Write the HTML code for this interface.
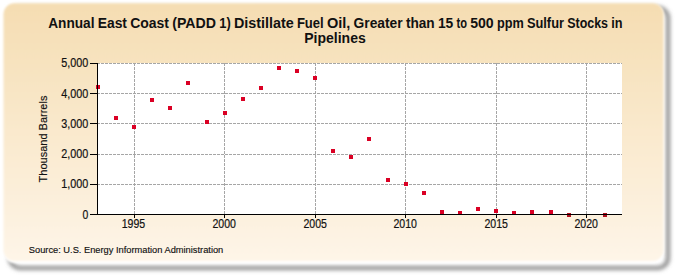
<!DOCTYPE html>
<html><head><meta charset="utf-8"><style>
html,body{margin:0;padding:0;width:675px;height:275px;overflow:hidden;background:#fff;}
svg{display:block;font-family:"Liberation Sans",sans-serif;}
</style></head><body>
<svg width="675" height="275" viewBox="0 0 675 275">
<defs>
<linearGradient id="bg" x1="0" y1="0" x2="0" y2="1">
<stop offset="0" stop-color="#F5DDB2"/>
<stop offset="1" stop-color="#FEF5E8"/>
</linearGradient>
<filter id="sh" x="-10%" y="-10%" width="120%" height="120%"><feGaussianBlur stdDeviation="2.2"/></filter>
<filter id="soft" x="-2%" y="-2%" width="104%" height="104%"><feGaussianBlur stdDeviation="0.9"/></filter>
</defs>
<rect x="10" y="8" width="658" height="260" rx="10" fill="none" stroke="#7c7c7c" stroke-width="3.6" filter="url(#sh)"/>
<rect x="3.5" y="3.2" width="660" height="259.8" rx="11" fill="#fff" filter="url(#soft)"/>
<rect x="3.5" y="3.2" width="660" height="257.8" rx="11" fill="url(#bg)" filter="url(#soft)"/>
<rect x="98" y="63" width="524" height="151" fill="#fff"/>
<g stroke="#a6a6a6" stroke-dasharray="3,1"><line x1="97" y1="184.5" x2="622" y2="184.5"/><line x1="97" y1="154.5" x2="622" y2="154.5"/><line x1="97" y1="123.5" x2="622" y2="123.5"/><line x1="97" y1="93.5" x2="622" y2="93.5"/><line x1="97" y1="63.5" x2="622" y2="63.5"/><line x1="134.5" y1="63" x2="134.5" y2="214"/><line x1="224.5" y1="63" x2="224.5" y2="214"/><line x1="315.5" y1="63" x2="315.5" y2="214"/><line x1="405.5" y1="63" x2="405.5" y2="214"/><line x1="496.5" y1="63" x2="496.5" y2="214"/><line x1="586.5" y1="63" x2="586.5" y2="214"/></g>
<g font-size="12" fill="#111" stroke="#111" stroke-width="0.2"><text x="88.2" y="218.8" text-anchor="end" textLength="5.8" lengthAdjust="spacingAndGlyphs">0</text><text x="88.2" y="187.8" text-anchor="end" textLength="27.0" lengthAdjust="spacingAndGlyphs">1,000</text><text x="88.2" y="157.8" text-anchor="end" textLength="27.0" lengthAdjust="spacingAndGlyphs">2,000</text><text x="88.2" y="127.6" text-anchor="end" textLength="27.0" lengthAdjust="spacingAndGlyphs">3,000</text><text x="88.2" y="97.7" text-anchor="end" textLength="27.0" lengthAdjust="spacingAndGlyphs">4,000</text><text x="88.2" y="66.9" text-anchor="end" textLength="27.0" lengthAdjust="spacingAndGlyphs">5,000</text><text x="133.5" y="228" text-anchor="middle" textLength="23.5" lengthAdjust="spacingAndGlyphs">1995</text><text x="224.2" y="228" text-anchor="middle" textLength="23.5" lengthAdjust="spacingAndGlyphs">2000</text><text x="315.2" y="228" text-anchor="middle" textLength="23.5" lengthAdjust="spacingAndGlyphs">2005</text><text x="405.2" y="228" text-anchor="middle" textLength="23.5" lengthAdjust="spacingAndGlyphs">2010</text><text x="496.2" y="228" text-anchor="middle" textLength="23.5" lengthAdjust="spacingAndGlyphs">2015</text><text x="586.2" y="228" text-anchor="middle" textLength="23.5" lengthAdjust="spacingAndGlyphs">2020</text></g>
<g fill="#DA0024"><rect x="96" y="85" width="4" height="4"/><rect x="114" y="116" width="4" height="4"/><rect x="132" y="125" width="4" height="4"/><rect x="150" y="98" width="4" height="4"/><rect x="168" y="106" width="4" height="4"/><rect x="186" y="81" width="4" height="4"/><rect x="205" y="120" width="4" height="4"/><rect x="223" y="111" width="4" height="4"/><rect x="241" y="97" width="4" height="4"/><rect x="259" y="86" width="4" height="4"/><rect x="277" y="66" width="4" height="4"/><rect x="295" y="69" width="4" height="4"/><rect x="313" y="76" width="4" height="4"/><rect x="331" y="149" width="4" height="4"/><rect x="349" y="155" width="4" height="4"/><rect x="367" y="137" width="4" height="4"/><rect x="386" y="178" width="4" height="4"/><rect x="404" y="182" width="4" height="4"/><rect x="422" y="191" width="4" height="4"/><rect x="440" y="210" width="4" height="4"/><rect x="458" y="211" width="4" height="4"/><rect x="476" y="207" width="4" height="4"/><rect x="494" y="209" width="4" height="4"/><rect x="512" y="211" width="4" height="4"/><rect x="530" y="210" width="4" height="4"/><rect x="549" y="210" width="4" height="4"/><rect x="567" y="213" width="4" height="4" fill="#b0101f"/><rect x="603" y="213" width="4" height="4" fill="#b0101f"/></g>
<line x1="97.5" y1="63" x2="97.5" y2="214" stroke="#000"/>
<line x1="90" y1="214.5" x2="622" y2="214.5" stroke="#000"/>
<g stroke="#000"><line x1="90" y1="214.5" x2="97" y2="214.5"/><line x1="90" y1="184.5" x2="97" y2="184.5"/><line x1="90" y1="154.5" x2="97" y2="154.5"/><line x1="90" y1="123.5" x2="97" y2="123.5"/><line x1="90" y1="93.5" x2="97" y2="93.5"/><line x1="90" y1="63.5" x2="97" y2="63.5"/><line x1="134.5" y1="214" x2="134.5" y2="218"/><line x1="224.5" y1="214" x2="224.5" y2="218"/><line x1="315.5" y1="214" x2="315.5" y2="218"/><line x1="405.5" y1="214" x2="405.5" y2="218"/><line x1="496.5" y1="214" x2="496.5" y2="218"/><line x1="586.5" y1="214" x2="586.5" y2="218"/></g>
<g font-size="14" font-weight="bold" fill="#111" ><text x="48.2" y="28" textLength="46.3" lengthAdjust="spacingAndGlyphs">Annual</text><text x="97.7" y="28" textLength="29.3" lengthAdjust="spacingAndGlyphs">East</text><text x="130.2" y="28" textLength="38.8" lengthAdjust="spacingAndGlyphs">Coast</text><text x="172.2" y="28" textLength="43.8" lengthAdjust="spacingAndGlyphs">(PADD</text><text x="219.2" y="28" textLength="11.5" lengthAdjust="spacingAndGlyphs">1)</text><text x="233.9" y="28" textLength="59.8" lengthAdjust="spacingAndGlyphs">Distillate</text><text x="296.9" y="28" textLength="26.8" lengthAdjust="spacingAndGlyphs">Fuel</text><text x="326.9" y="28" textLength="23.4" lengthAdjust="spacingAndGlyphs">Oil,</text><text x="353.5" y="28" textLength="49.2" lengthAdjust="spacingAndGlyphs">Greater</text><text x="405.9" y="28" textLength="28.8" lengthAdjust="spacingAndGlyphs">than</text><text x="437.9" y="28" textLength="15.4" lengthAdjust="spacingAndGlyphs">15</text><text x="456.5" y="28" textLength="10.5" lengthAdjust="spacingAndGlyphs">to</text><text x="470.2" y="28" textLength="23.5" lengthAdjust="spacingAndGlyphs">500</text><text x="496.9" y="28" textLength="26.8" lengthAdjust="spacingAndGlyphs">ppm</text><text x="526.9" y="28" textLength="37.1" lengthAdjust="spacingAndGlyphs">Sulfur</text><text x="567.2" y="28" textLength="40.8" lengthAdjust="spacingAndGlyphs">Stocks</text><text x="611.2" y="28" textLength="11.3" lengthAdjust="spacingAndGlyphs">in</text></g>
<text x="335" y="42.5" font-size="14" font-weight="bold" fill="#111" text-anchor="middle">Pipelines</text>
<text transform="translate(47,139) rotate(-90)" font-size="11" fill="#111" stroke="#111" stroke-width="0.15" text-anchor="middle">Thousand Barrels</text>
<text x="28.8" y="253" font-size="9.5" fill="#111" stroke="#111" stroke-width="0.15" textLength="194.5" lengthAdjust="spacingAndGlyphs">Source: U.S. Energy Information Administration</text>
</svg>
</body></html>
